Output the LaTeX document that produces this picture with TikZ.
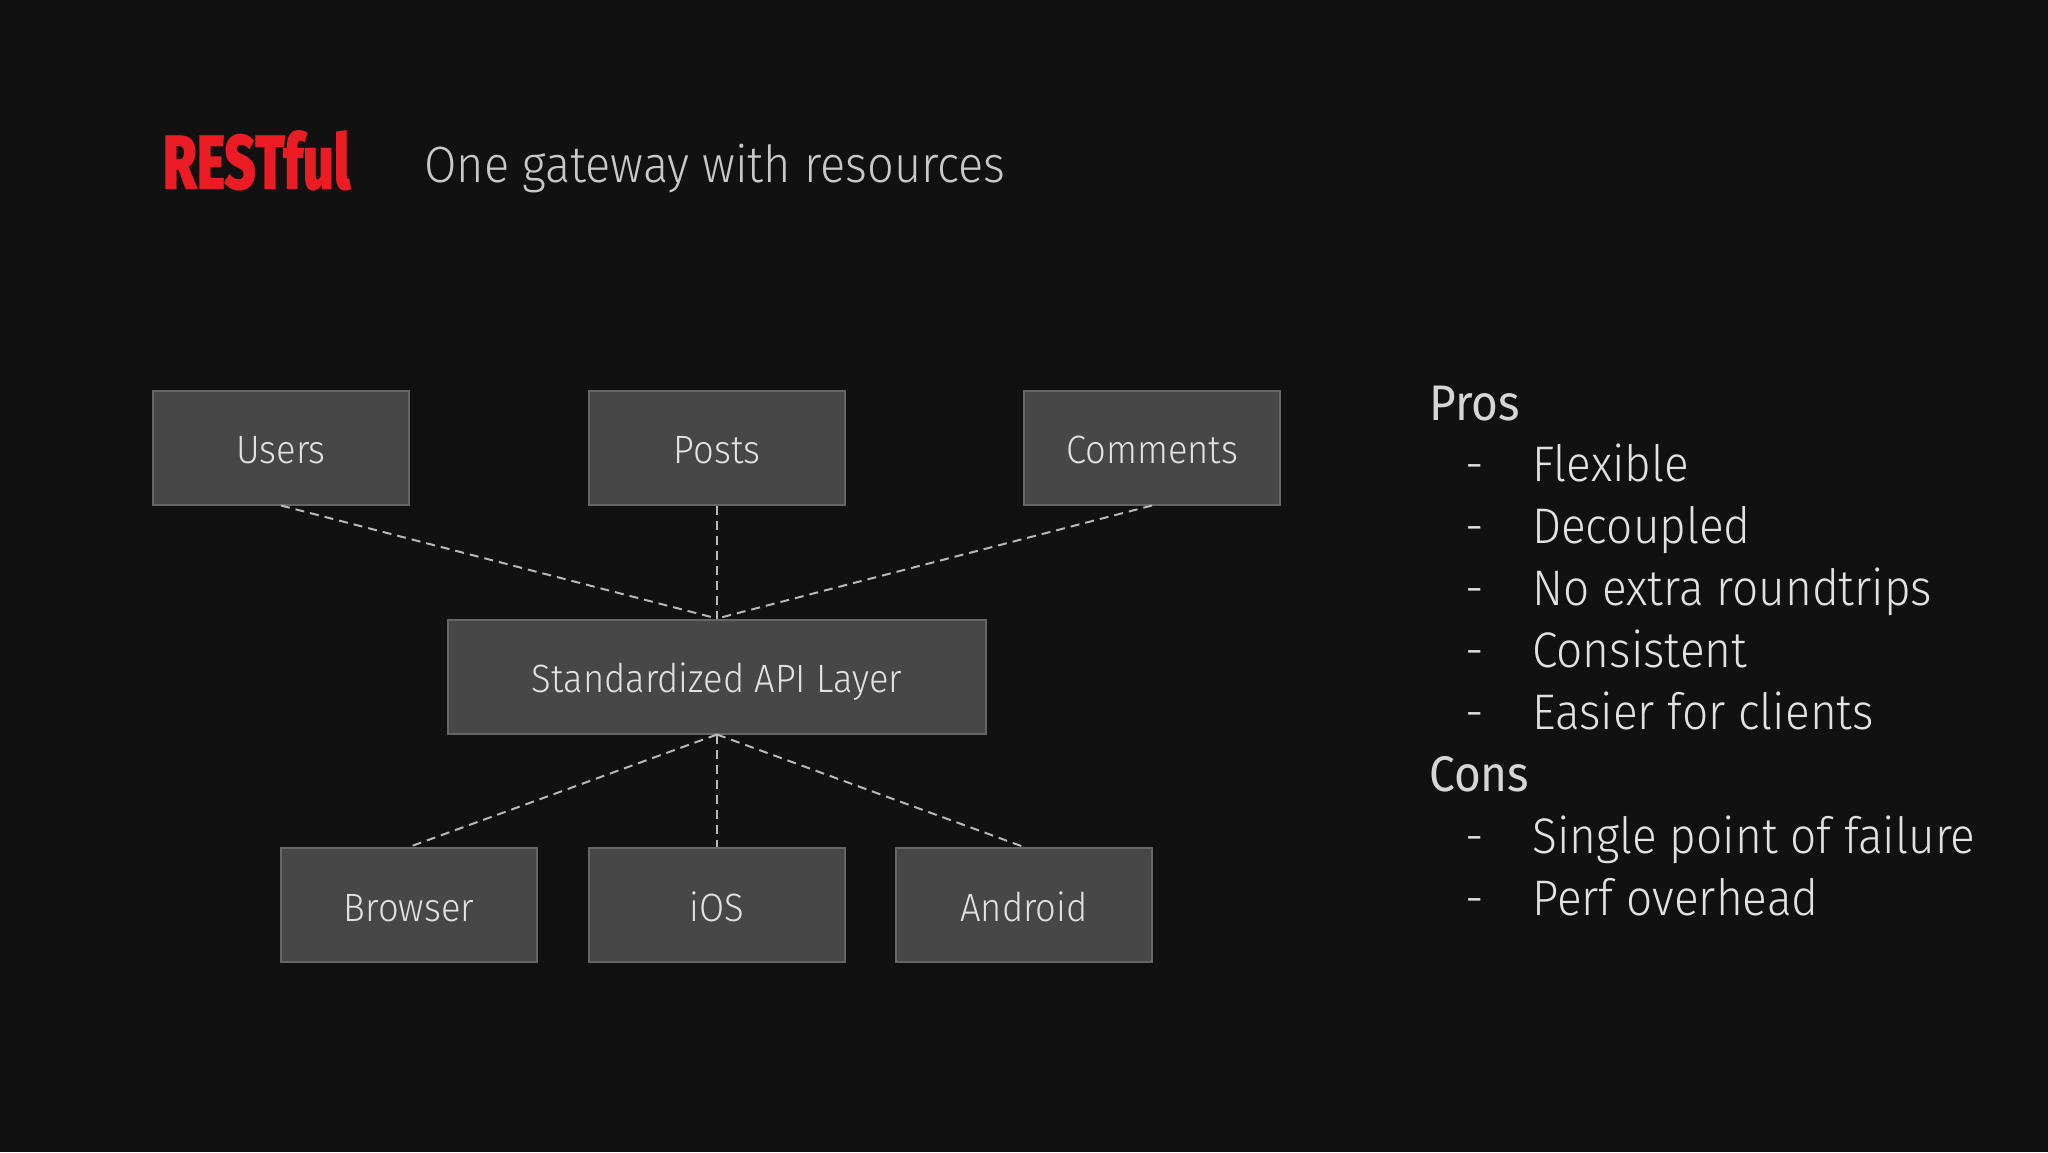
\documentclass[tikz,border=0pt]{standalone}
\usepackage{fontspec}
\usepackage{graphicx}
\IfFontExistsTF{Fira Sans Light}{\setmainfont{Fira Sans Light}[FakeStretch=0.92,BoldFont={Fira Sans}]}{\setmainfont{Fira Sans}[FakeStretch=0.92]}
\newfontfamily\regfont{Fira Sans}[FakeStretch=0.92]
\newfontfamily\heavyfont{Fira Sans}[UprightFont={* Black}]
\definecolor{bgc}{HTML}{111111}
\definecolor{boxfill}{HTML}{474747}
\definecolor{boxline}{HTML}{666666}
\definecolor{dashc}{HTML}{B8B8B8}
\definecolor{titlered}{HTML}{EC1C24}
\definecolor{subc}{HTML}{C8C8C8}
\definecolor{listc}{HTML}{E2E2E2}
\definecolor{headc}{HTML}{D6D6D6}
\tikzset{
  block/.style={draw=boxline, line width=2pt, fill=boxfill, minimum width=256pt, minimum height=114pt, inner sep=0pt, text height=32pt, text depth=0pt, text=listc, font=\fontsize{39.5}{46}\selectfont},
  link/.style={draw=dashc, line width=2pt, dash pattern=on 9pt off 6pt},
  item/.style={anchor=base west, inner sep=0pt, text=listc, font=\fontsize{50}{60}\selectfont},
  head/.style={anchor=base west, inner sep=0pt, text=headc, font=\regfont\fontsize{50}{60}\selectfont},
}
\begin{document}
\begin{tikzpicture}[x=1pt,y=-1pt]
\fill[bgc] (0,0) rectangle (2048,1152);
\useasboundingbox (0,0) rectangle (2048,1152);
% title
\node[anchor=south west, inner sep=0pt, text=titlered] (title) at (163,191) {\resizebox{187pt}{59pt}{\heavyfont RESTful}};
\node[anchor=base west, inner sep=0pt, text=subc, font=\fontsize{51}{60}\selectfont] (sub) at (424,182) {One gateway with resources};
% boxes
\node[block] (users) at (281,447.5) {Users};
\node[block] (posts) at (717,447.5) {Posts};
\node[block] (comments) at (1152,447.5) {Comments};
\node[block, minimum width=538pt] (api) at (717,676.5) {Standardized API Layer};
\node[block] (browser) at (409,905) {Browser};
\node[block] (ios) at (717,905) {iOS};
\node[block] (android) at (1024,905) {Android};
% links
\draw[link] (users.south) -- (api.north);
\draw[link] (posts.south) -- (api.north);
\draw[link] (comments.south) -- (api.north);
\draw[link] (api.south) -- (browser.north);
\draw[link] (api.south) -- (ios.north);
\draw[link] (api.south) -- (android.north);
% lists
\node[head] (pros) at (1429,420) {Pros};
\foreach \t [count=\i] in {Flexible,Decoupled,No extra roundtrips,Consistent,Easier for clients}{
  \node[item] (pd\i) at (1465,{420+61.9*\i}) {-};
  \node[item] (pi\i) at (1532,{420+61.9*\i}) {\t};
}
\node[head] (cons) at (1429,791.4) {Cons};
\foreach \t [count=\i] in {Single point of failure,Perf overhead}{
  \node[item] (cd\i) at (1465,{791.4+61.9*\i}) {-};
  \node[item] (ci\i) at (1532,{791.4+61.9*\i}) {\t};
}
\end{tikzpicture}
\end{document}
